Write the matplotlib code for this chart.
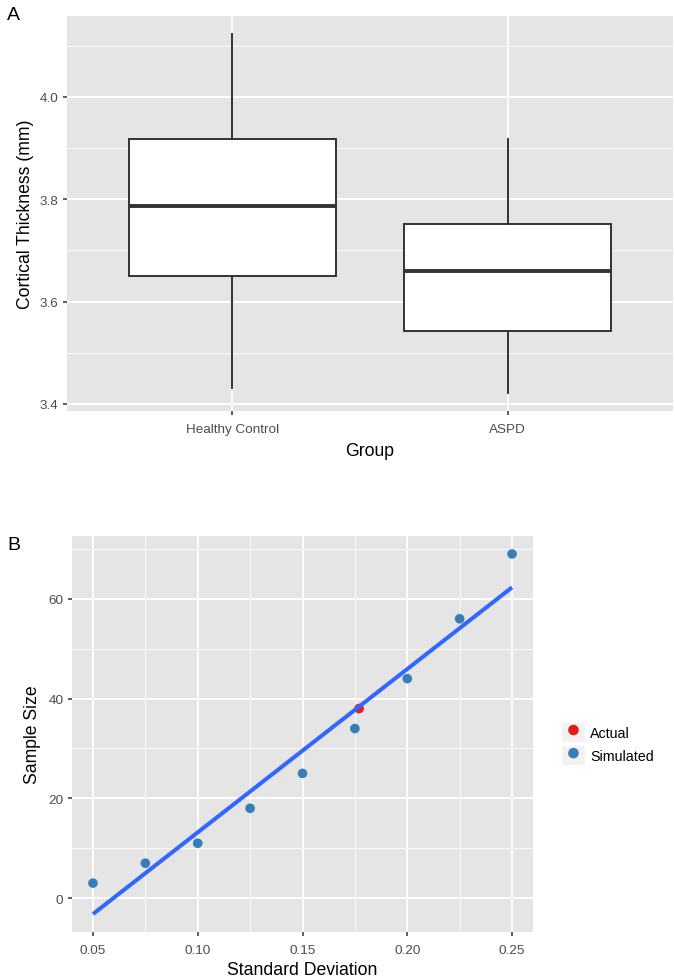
import matplotlib
matplotlib.use("Agg")
import matplotlib.pyplot as plt
from matplotlib.patches import Patch
from matplotlib.legend_handler import HandlerTuple
from matplotlib.ticker import MultipleLocator

plt.rcParams['font.family'] = ['Liberation Sans', 'DejaVu Sans']

# Panel A: box plot summary
groups = ["Healthy Control", "ASPD"]
whisker_low = [3.431, 3.421]
q1 = [3.650, 3.543]
median = [3.787, 3.659]
q3 = [3.917, 3.752]
whisker_high = [4.123, 3.917]

# Panel B: sample size vs standard deviation
sd_sim = [0.05, 0.075, 0.10, 0.125, 0.15, 0.175, 0.20, 0.225, 0.25]
n_sim = [3, 7, 11, 18, 25, 34, 44, 56, 69]
sd_actual = [0.177]
n_actual = [38]
fit_sd = [0.05, 0.25]
fit_n = [-3.2, 62.3]

BG = '#E5E5E5'
TICK_COL = '#4D4D4D'
DARK = '#333333'
TICK_FS = 9.7
TITLE_FS = 12.7


def style_axes(ax):
    ax.set_facecolor(BG)
    for s in ax.spines.values():
        s.set_visible(False)
    ax.grid(which='major', color='white', linewidth=1.3)
    ax.grid(which='minor', color='white', linewidth=0.6)
    ax.set_axisbelow(True)
    ax.tick_params(which='major', length=2.9, width=1.1, color=DARK,
                   labelcolor=TICK_COL, labelsize=TICK_FS)
    ax.tick_params(axis='x', which='major', pad=5.5)
    ax.tick_params(axis='y', which='major', pad=3.3)
    ax.tick_params(which='minor', length=0)


fig = plt.figure(figsize=(6.75, 9.79), dpi=100)

# ---- Panel A
axA = fig.add_axes([67 / 675, 1 - 412 / 979, 606 / 675, 395 / 979])
style_axes(axA)
stats = []
for i, g in enumerate(groups):
    stats.append({'label': g, 'whislo': whisker_low[i], 'q1': q1[i],
                  'med': median[i], 'q3': q3[i], 'whishi': whisker_high[i]})
axA.bxp(stats, positions=[1, 2], widths=0.75, showcaps=False,
        showfliers=False, patch_artist=True,
        boxprops=dict(facecolor='white', edgecolor=DARK, linewidth=1.4),
        medianprops=dict(color=DARK, linewidth=2.8, solid_capstyle='butt'),
        whiskerprops=dict(color=DARK, linewidth=1.4))
axA.set_xlim(0.4, 2.6)
axA.set_ylim(3.386, 4.158)
axA.yaxis.set_major_locator(MultipleLocator(0.2))
axA.yaxis.set_minor_locator(MultipleLocator(0.1))
axA.xaxis.grid(False, which='minor')
axA.set_yticks([3.4, 3.6, 3.8, 4.0])
axA.set_yticklabels(['3.4', '3.6', '3.8', '4.0'])
axA.set_xlabel('Group', fontsize=TITLE_FS, labelpad=5)
axA.set_ylabel('Cortical Thickness (mm)', fontsize=TITLE_FS, labelpad=4)
fig.text(7 / 675, 1 - 16 / 979, 'A', fontsize=14, va='center', ha='left')

# ---- Panel B
axB = fig.add_axes([72 / 675, 1 - 933 / 979, 461 / 675, 396 / 979])
style_axes(axB)
sc_act = axB.scatter(sd_actual, n_actual, s=48, color='#E41A1C', zorder=3,
                     edgecolors='none')
sc_sim = axB.scatter(sd_sim, n_sim, s=48, color='#377EB8', zorder=3,
                     edgecolors='none')
axB.plot(fit_sd, fit_n, color='#3366FF', linewidth=2.9, zorder=4,
         solid_capstyle='butt')
axB.set_xlim(0.04, 0.26)
axB.set_ylim(-6.8, 72.6)
axB.xaxis.set_major_locator(MultipleLocator(0.05))
axB.xaxis.set_minor_locator(MultipleLocator(0.025))
axB.yaxis.set_major_locator(MultipleLocator(20))
axB.yaxis.set_minor_locator(MultipleLocator(10))
axB.set_xticks([0.05, 0.10, 0.15, 0.20, 0.25])
axB.set_xticklabels(['0.05', '0.10', '0.15', '0.20', '0.25'])
axB.set_yticks([0, 20, 40, 60])
axB.set_xlabel('Standard Deviation', fontsize=TITLE_FS, labelpad=3.5)
axB.set_ylabel('Sample Size', fontsize=TITLE_FS, labelpad=5)
fig.text(7 / 675, 1 - 546 / 979, 'B', fontsize=14, va='center', ha='left')

key_bg = Patch(facecolor='#F2F2F2', edgecolor='none')
fig.legend([(key_bg, sc_act), (key_bg, sc_sim)], ['Actual', 'Simulated'],
           handler_map={tuple: HandlerTuple(ndivide=1, pad=0)},
           loc='center left', bbox_to_anchor=(552 / 675, 1 - 745 / 979),
           frameon=False, fontsize=10.3, handlelength=1.6, handleheight=1.65,
           labelspacing=0.3, handletextpad=0.35, borderpad=0.2,
           scatterpoints=1, markerscale=1.1)

fig.savefig('out.png', dpi=100, facecolor='white')
